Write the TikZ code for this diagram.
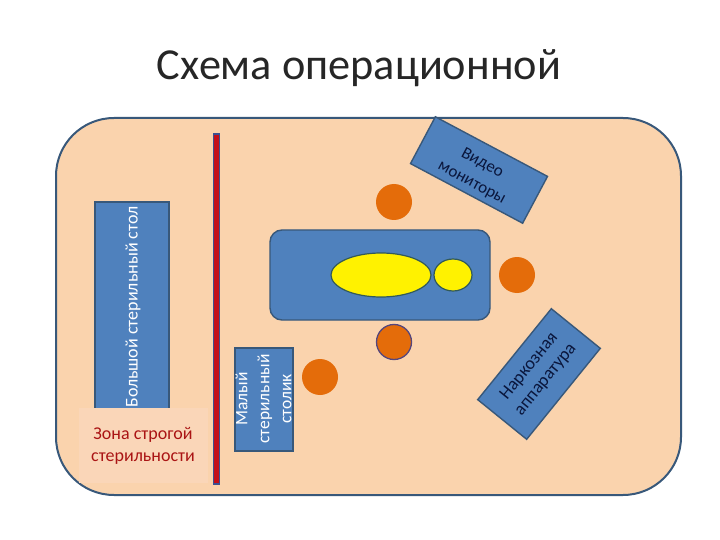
\documentclass[tikz,border=0pt]{standalone}
\usepackage{fontspec}
\setmainfont{Carlito}
\usetikzlibrary{shapes.geometric}
\definecolor{roomfill}{RGB}{250,211,173}
\definecolor{zonefill}{RGB}{250,214,184}
\definecolor{edgeblue}{RGB}{56,88,122}
\definecolor{barblue}{RGB}{60,80,145}
\definecolor{barred}{RGB}{195,15,25}
\definecolor{tblue}{RGB}{79,129,189}
\definecolor{orangec}{RGB}{228,108,10}
\definecolor{dred}{RGB}{170,20,20}
\definecolor{textdark}{RGB}{10,22,60}
\definecolor{ringc}{RGB}{85,70,125}
\definecolor{eggedge}{RGB}{50,90,90}
\tikzset{
 room/.style={draw=edgeblue,line width=2pt,fill=roomfill,rounded corners=58pt,minimum width=625pt,minimum height=377pt,inner sep=0pt},
 tbl/.style={draw=edgeblue,line width=1.4pt,fill=tblue,inner sep=0pt,align=center},
 person/.style={circle,fill=orangec,minimum size=36pt,inner sep=0pt},
 egg/.style={ellipse,draw=eggedge,line width=1.2pt,fill=yellow,inner sep=0pt},
}
\begin{document}
\begin{tikzpicture}[x=1pt,y=-1pt]
\useasboundingbox (0,0) rectangle (720,540);
\fill[white] (0,0) rectangle (720,540);
\node[text=black!85] (title) at (359,68) {\fontsize{44.3}{50}\selectfont Схема операционной};
\node[room] (room) at (368.5,306.5) {};
\node[tbl,minimum width=74pt,minimum height=209pt] (big) at (132,306.5) {};
\node[rotate=90,text=white,font=\fontsize{18}{20}\selectfont] (bigt) at (133,307) {Большой стерильный стол};
\node[fill=zonefill,minimum width=129pt,minimum height=75pt,inner sep=0pt,align=center,text=dred,font=\fontsize{18}{22}\selectfont] (zone) at (143,445.5) {Зона строгой\\стерильности};
\node[draw=barblue,line width=1.6pt,fill=barred,minimum width=6pt,minimum height=350pt,inner sep=0pt] (bar) at (216.5,309) {};
\node[tbl,minimum width=58pt,minimum height=103pt] (small) at (264,399.5) {};
\node[rotate=90,text=white,align=center,font=\fontsize{17.5}{22}\selectfont] (smallt) at (263.5,399) {Малый\\стерильный\\столик};
\node[tbl,rounded corners=12pt,minimum width=220pt,minimum height=90pt] (optable) at (380,275) {};
\node[egg,minimum width=100pt,minimum height=44pt] (body) at (381,275) {};
\node[egg,minimum width=38pt,minimum height=32pt] (head) at (453,275) {};
\node[person] (p1) at (394,202) {};
\node[person] (p2) at (517,275) {};
\node[person,draw=ringc,line width=1.3pt,minimum size=35pt] (p3) at (394,342) {};
\node[person] (p4) at (320,377) {};
\node[tbl,minimum width=127pt,minimum height=53pt,rotate=-28] (video) at (479,170) {};
\node[rotate=-28,align=center,text=textdark,font=\fontsize{17}{22}\selectfont] (videot) at (477,173) {Видео\\мониторы};
\node[tbl,minimum width=117pt,minimum height=63pt,rotate=51] (narc) at (539,374) {};
\node[rotate=51,align=center,text=textdark,font=\fontsize{18}{21}\selectfont] (narct) at (537.5,373) {Наркозная\\аппаратура};
\end{tikzpicture}
\end{document}
